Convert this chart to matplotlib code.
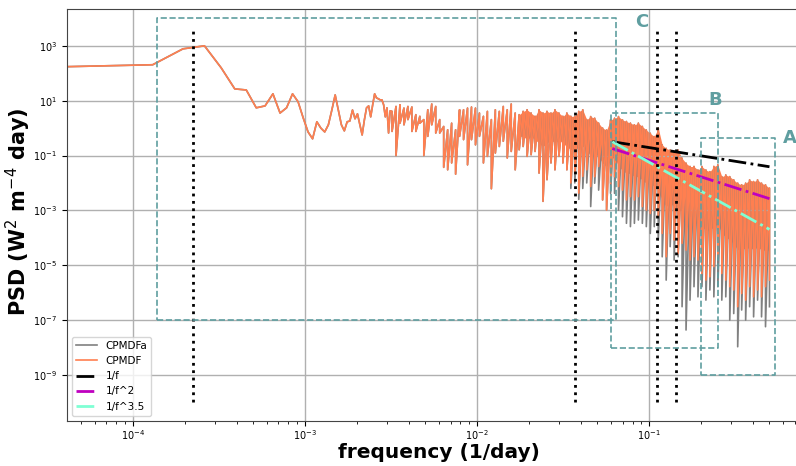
import numpy as np
import matplotlib
matplotlib.use("Agg")
import matplotlib.pyplot as plt
from matplotlib.ticker import NullLocator

# frequency step of the spectrum (1/day)
df = 6.5e-5

# low-frequency part: individual periodogram points, log10(PSD)
f_first = 4.13e-5
low_k = np.arange(2, 49)
low_log = [2.24, 2.31, 2.89, 3.0, 2.2, 1.43, 1.39, 0.74, 0.81, 1.25,
           0.55, 0.74, 1.25, 0.96, 0.37, -0.14, -0.39, 0.23, 0.0, -0.14,
           0.12, 0.66, 1.21, 0.66, 0.12, -0.10, 0.23, 0.26, 0.66, 0.34,
           0.52, 0.12, -0.25, 0.30, 0.74, 0.81, 0.41, 0.85, 1.25, 1.10,
           1.07, 1.03, 1.03, 0.85, 0.41, 0.74, -0.18, 0.63]

# dense part: upper / lower extremes, log10(PSD)
f_dense_lo, f_dense_hi, n_dense = 3.2e-3, 0.5, 96
cpmdf_hi = [0.61, 0.79, 0.85, 0.73, 0.79, 0.77, 0.49, 0.43, 0.31, 0.67,
            0.88, 0.79, 0.31, 0.06, -0.06, 0.18, -0.06, 0.67, 0.67, 0.73,
            0.77, 0.73, 0.55, 0.43, 0.61, 0.31, 0.67, 0.61, 0.79, 0.67,
            0.88, 0.55, 0.49, 0.61, 0.67, 0.55, 0.43, 0.67, 0.55, 0.61,
            0.55, 0.67, 0.55, 0.43, 0.55, 0.43, 0.43, 0.61, 0.67, 0.31,
            0.42, 0.36, 0.18, 0.0, -0.07, 0.30, 0.36, 0.42, 0.30, 0.24,
            0.18, 0.12, 0.18, 0.06, -0.07, -0.19, -0.31, 0.0, -0.61, -0.74,
            -0.80, -0.86, -0.80, -1.10, -1.28, -1.40, -1.40, -1.53, -1.40, -1.53,
            -1.59, -1.40, -1.34, -1.77, -1.71, -1.77, -1.89, -2.01, -2.07, -2.01,
            -1.89, -1.95, -1.89, -2.01, -2.07, -2.19]
# bottom of the solid coral band (nan where the line is still resolved)
cpmdf_core = [np.nan] * 32 + [
            -0.30, -0.30, -0.42, -0.30, -0.42, -0.55, -0.67, -0.55, -0.42, -0.55,
            -0.42, -0.55, -0.67, -0.79, -0.67, -0.79, -0.67, -0.79,
            -1.04, -0.92, -1.04, -1.28, -1.40, -1.16, -1.04,
            -1.40, -1.53, -1.65, -1.65, -1.77, -1.77, -1.89, -2.01, -2.01, -2.13, -2.26,
            -2.62, -2.86, -2.74, -2.86, -2.99, -2.99, -3.11, -3.23,
            -3.35, -3.47, -3.59, -3.72, -3.72, -3.59, -3.47, -3.84, -3.96, -4.08,
            -4.20, -4.45, -4.32, -4.45, -4.32, -4.45, -4.32, -4.45, -4.45, -4.45]
cpmdf_lo = [-0.12, -1.0, 0.18, 0.12, 0.31, -0.12, -0.12, 0.18, -1.0, -0.30,
            0.12, -0.18, -0.18, -1.43, -1.52, -1.27, -1.68, -0.30, -0.42, -1.34,
            -0.42, -0.61, -0.30, -1.27, -1.03, -2.21, -0.91, -0.67, -0.48, -1.09,
            -0.85, -1.52, -0.79, -0.67, -1.03, -0.97, -0.85, -1.64, -2.67, -1.88,
            -1.27, -1.52, -1.03, -1.27, -1.52, -2.0, -1.64, -2.37, -1.76, -1.52,
            -2.13, -1.77, -1.40, -2.62, -2.99, -2.01, -1.77, -2.13, -2.26, -2.62,
            -2.50, -2.62, -2.50, -2.86, -2.99, -3.11, -2.99, -3.23, -3.84, -4.69,
            -3.84, -4.08, -4.57, -4.20, -4.45, -4.81, -4.69, -4.81, -5.30, -5.54,
            -5.42, -5.05, -4.69, -5.30, -5.54, -5.78, -5.90, -6.51, -6.03, -6.27,
            -5.78, -6.15, -5.90, -6.15, -5.78, -5.54]
cpmdfa_lo = [-0.12, -1.0, 0.18, 0.12, 0.31, -0.12, -0.12, 0.18, -1.0, -0.30,
             0.12, -0.18, -0.18, -1.43, -1.52, -1.27, -1.68, -0.30, -0.42, -1.34,
             -0.42, -0.61, -0.30, -1.27, -1.03, -2.21, -0.91, -0.67, -0.48, -1.09,
             -0.85, -1.52, -0.79, -0.67, -1.03, -0.97, -0.85, -1.64, -2.67, -1.88,
             -1.27, -1.52, -1.03, -1.27, -1.52, -2.2, -2.0, -2.6, -2.2, -2.0,
             -2.86, -2.01, -2.26, -2.62, -2.99, -2.38, -2.38, -2.99, -3.23, -3.47,
             -3.59, -3.47, -3.35, -3.47, -3.59, -3.84, -3.59, -4.08, -4.69, -5.54,
             -4.32, -4.81, -4.69, -6.51, -7.36, -6.27, -5.78, -6.15, -5.78, -6.27,
             -5.90, -6.15, -5.78, -6.27, -6.15, -7.0, -6.76, -7.97, -6.63, -7.0,
             -6.51, -6.88, -6.27, -6.88, -7.24, -6.51]

# power-law reference lines: amplitude at start frequency, exponent
fit_f = [0.061, 0.5]
fit_amp = [0.32, 0.18, 0.32]
fit_pow = [1.0, 2.0, 3.5]
fit_labels = ["1/f", "1/f^2", "1/f^3.5"]
fit_colors = ["black", "m", "aquamarine"]

# marked frequencies and boxes (f_min, f_max, psd_min, psd_max)
vline_f = [2.23e-4, 0.037, 0.1113, 0.1436]
boxes = {"C": (1.38e-4, 0.0643, 1e-7, 1e4),
         "B": (0.060, 0.252, 1e-8, 3.6),
         "A": (0.20, 0.54, 1e-9, 0.45)}
box_text_pos = {"C": (0.091, 7.5e3), "B": (0.242, 10.7), "A": (0.66, 0.44)}


def zigzag(f, hi, lo):
    # alternate the upper and lower extremes at each frequency
    x = np.repeat(f, 2)
    y = np.empty(2 * len(f))
    y[0::2] = hi
    y[1::2] = lo
    return x, y


f_low = np.concatenate([[f_first], df * low_k])
f_dense = np.geomspace(f_dense_lo, f_dense_hi, n_dense)

xa, ya = zigzag(f_dense, cpmdf_hi, cpmdfa_lo)
xb, yb = zigzag(f_dense, cpmdf_hi, cpmdf_lo)
fa = np.concatenate([f_low, xa])
pa = 10.0 ** np.concatenate([low_log, ya])
fb = np.concatenate([f_low, xb])
pb = 10.0 ** np.concatenate([low_log, yb])

fig = plt.figure(figsize=(7.96, 4.66), dpi=100)
ax = fig.add_axes([67 / 796, 45 / 466, (810 - 67) / 796, 412 / 466])

ax.plot(fa, pa, color="gray", lw=1.2, label="CPMDFa")
ax.plot(fb, pb, color="coral", lw=1.2, label="CPMDF")
core = np.array(cpmdf_core)
ax.fill_between(f_dense, 10.0 ** np.array(cpmdf_hi), 10.0 ** core,
                where=~np.isnan(core), color="coral", lw=0)

for amp, p, lab, col in zip(fit_amp, fit_pow, fit_labels, fit_colors):
    ff = np.array(fit_f)
    ax.plot(ff, amp * (ff[0] / ff) ** p, "-.", color=col, lw=2, label=lab)

for f in vline_f:
    ax.plot([f, f], [1e-10, 4e3], ":", color="black", lw=2)

for name, (x0, x1, y0, y1) in boxes.items():
    ax.plot([x0, x1, x1, x0, x0], [y0, y0, y1, y1, y0], "--",
            color="cadetblue", lw=1.2)
    tx, ty = box_text_pos[name]
    ax.text(tx, ty, name, color="cadetblue", fontsize=13, fontweight="bold",
            ha="center", va="center")

ax.set_xscale("log")
ax.set_yscale("log")
ax.set_xlim(4.13e-5, 0.86)
ax.set_ylim(2.1e-11, 2.2e4)
ax.set_yticks([1e-9, 1e-7, 1e-5, 1e-3, 1e-1, 1e1, 1e3])
ax.yaxis.set_minor_locator(NullLocator())
ax.tick_params(labelsize=7)
ax.tick_params(axis="x", pad=2)
ax.grid(True, which="major", color="#b0b0b0", lw=1)
for s in ax.spines.values():
    s.set_color("#444444")

ax.set_xlabel("frequency (1/day)", fontsize=14.5, fontweight="bold")
ax.set_ylabel("PSD (W$^2$ m$^{-4}$ day)", fontsize=15, fontweight="bold")
ax.xaxis.set_label_coords(0.5, -0.054)
ax.yaxis.set_label_coords(-0.046, 0.508)
ax.legend(loc="lower left", fontsize=7.5, handlelength=2)

fig.savefig("out.png", dpi=100)
